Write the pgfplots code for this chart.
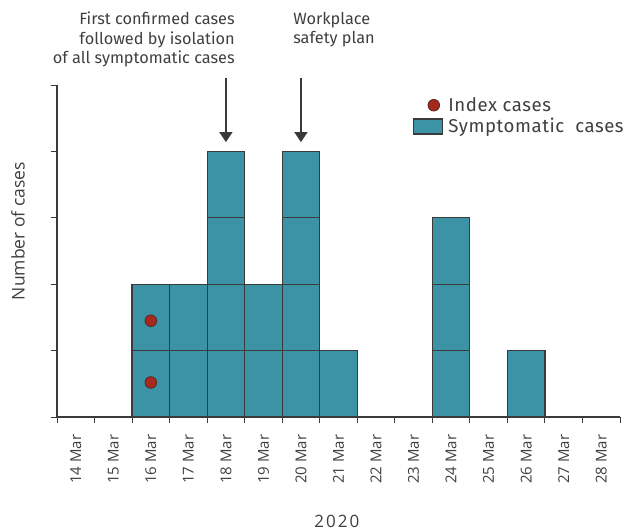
\documentclass[border=0pt]{standalone}
\usepackage{pgfplots}
\pgfplotsset{compat=1.18}
\usetikzlibrary{arrows.meta}
\usepackage{fontspec}
\setmainfont{Fira Sans}
\newfontfamily\osans{Open Sans}
\newfontfamily\osanswide{Open Sans}[LetterSpace=12]
\newfontfamily\fsanswide{Fira Sans}[LetterSpace=3]
\definecolor{barfill}{HTML}{3B93A5}
\definecolor{edge}{HTML}{3A3A3A}
\definecolor{dotred}{HTML}{A5291D}
\definecolor{dotedge}{HTML}{5A2620}
\definecolor{txt}{HTML}{3F3F3F}
\pgfplotsset{
  barlegend/.style={legend image code/.code={\draw[fill=barfill, draw=edge, line width=1.2pt] (0pt,-7.5pt) rectangle (29pt,7.5pt);}},
  dotlegend/.style={legend image code/.code={\draw[##1] plot coordinates {(20pt,0pt)};}},
  boxes/.style={ybar, bar width=1, bar shift=0pt, fill=barfill, draw=edge, line width=1.2pt, forget plot},
}
\begin{document}
\begin{tikzpicture}[every node/.append style={text=txt}]
\useasboundingbox (-57pt,-114pt) rectangle (577pt,417pt);
\begin{axis}[
  name=ax,
  scale only axis, width=563pt, height=332pt,
  xmin=0, xmax=15, ymin=0, ymax=5,
  axis x line=bottom, axis y line=left,
  axis line style={-, draw=edge, line width=1.2pt},
  tick align=outside, major tick length=6pt,
  tick style={draw=edge, line width=1pt},
  xtick={0,...,15}, xticklabels={},
  ytick={0,...,5}, yticklabels={},
  extra x ticks={0.5,1.5,...,14.5},
  extra x tick labels={14 Mar,15 Mar,16 Mar,17 Mar,18 Mar,19 Mar,20 Mar,21 Mar,22 Mar,23 Mar,24 Mar,25 Mar,26 Mar,27 Mar,28 Mar},
  extra x tick style={tick style={draw=none}, xticklabel style={rotate=90, anchor=east, font=\osans\fontsize{15}{16}\selectfont}},
  xticklabel shift=8pt,
  clip=false,
  ylabel={Number of cases},
  ylabel style={at={(rel axis cs:-0.0693,0.56)}, anchor=center, rotate=0, font=\osans\fontsize{17.5}{18}\selectfont},
  xlabel={2020},
  xlabel style={at={(rel axis cs:0.497,-0.313)}, anchor=center, font=\osanswide\fontsize{17}{18}\selectfont},
  legend style={at={(rel axis cs:0.627,0.972)}, anchor=north west, draw=none, fill=none,
    font=\fsanswide\fontsize{18.6}{20}\selectfont, row sep=3.5pt, nodes={inner ysep=1pt, inner xsep=2pt},
    /tikz/every odd column/.append style={column sep=3pt}},
  legend cell align=left,
]
\addlegendimage{only marks, mark=*, mark size=5.8pt, mark options={fill=dotred, draw=dotedge, line width=0.8pt}, dotlegend}
\addlegendentry{Index cases}
\addlegendimage{barlegend}
\addlegendentry{Symptomatic\ \ cases}
% layered case boxes: each layer k holds days with at least k cases
\addplot[boxes] coordinates {(4.5,4) (6.5,4)};
\addplot[boxes] coordinates {(4.5,3) (6.5,3) (10.5,3)};
\addplot[boxes] coordinates {(2.5,2) (3.5,2) (4.5,2) (5.5,2) (6.5,2) (10.5,2)};
\addplot[boxes] coordinates {(2.5,1) (3.5,1) (4.5,1) (5.5,1) (6.5,1) (7.5,1) (10.5,1) (12.5,1)};
% index cases
\addplot[only marks, mark=*, mark size=5.8pt, mark options={fill=dotred, draw=dotedge, line width=0.8pt}, forget plot] coordinates {(2.5,0.52) (2.5,1.45)};
% annotations
\draw[-{Triangle[width=13pt,length=10pt]}, line width=1.3pt, draw=edge] (axis cs:4.5,5.105) -- (axis cs:4.5,4.14);
\draw[-{Triangle[width=13pt,length=10pt]}, line width=1.3pt, draw=edge] (axis cs:6.5,5.105) -- (axis cs:6.5,4.14);
\node[anchor=north east, align=right, inner sep=0pt, font=\fontsize{16.3}{19.5}\selectfont] at (axis cs:4.74,6.1) {First confirmed cases\\followed by isolation\\of all symptomatic cases};
\node[anchor=north west, align=left, inner sep=0pt, font=\fontsize{16.3}{19.5}\selectfont] at (axis cs:6.29,6.1) {Workplace\\safety plan};
\end{axis}
\end{tikzpicture}
\end{document}
